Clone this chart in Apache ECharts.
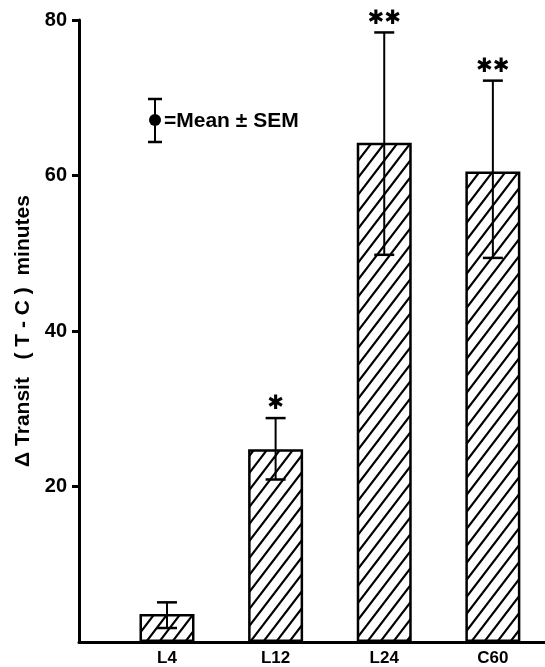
<!DOCTYPE html>
<html><head><meta charset="utf-8">
<script src="https://cdn.jsdelivr.net/npm/echarts@6/dist/echarts.min.js"></script>
<style>html,body{margin:0;padding:0;background:#fff}#c{width:545px;height:667px}</style>
</head><body><div id="c"></div>
<script>
const categories = ['L4', 'L12', 'L24', 'C60'];
const means = [3.6, 24.8, 64.2, 60.5];
const errLow = [1.8, 20.9, 49.8, 49.4];
const errHigh = [5.1, 28.8, 78.4, 72.2];
const stars = ['', '✱', '✱✱', '✱✱'];
const yTicks = [20, 40, 60, 80];

const FONT = '"Liberation Sans", Arial, sans-serif';

// hatch pattern
const tile = document.createElement('canvas');
const tw = 13, th = 17;
tile.width = tw; tile.height = th;
const g = tile.getContext('2d');
g.fillStyle = '#fff'; g.fillRect(0, 0, tw, th);
g.strokeStyle = '#000'; g.lineWidth = 2.2; g.lineCap = 'square';
g.beginPath();
g.moveTo(-tw, 2 * th); g.lineTo(2 * tw, -th);
g.moveTo(-2 * tw, 2 * th); g.lineTo(tw, -th);
g.moveTo(0, 2 * th); g.lineTo(3 * tw, -th);
g.stroke();

const barData = means.map((v, i) => [i, v]);
const errData = means.map((v, i) => [i, errLow[i], errHigh[i], v]);

const chart = echarts.init(document.getElementById('c'), null, {renderer: 'canvas'});
chart.setOption({
  animation: false,
  backgroundColor: '#fff',
  grid: {left: 79, right: 0, top: 20, bottom: 24, containLabel: false},
  xAxis: {
    type: 'value', min: -0.81, max: 3.48,
    axisLine: {show: true, onZero: false, lineStyle: {color: '#000', width: 3}},
    axisTick: {show: false},
    splitLine: {show: false},
    axisLabel: {
      customValues: [0, 1, 2, 3],
      formatter: v => categories[Math.round(v)] || '',
      color: '#000', fontFamily: FONT, fontWeight: 'bold', fontSize: 17, margin: 8
    }
  },
  yAxis: {
    type: 'value', min: 0, max: 80, interval: 20,
    name: 'Δ Transit   ( T - C )  minutes',
    nameLocation: 'middle', nameRotate: 90, nameGap: 45,
    nameTextStyle: {color: '#000', fontFamily: FONT, fontWeight: 'bold', fontSize: 21},
    axisLine: {show: true, onZero: false, lineStyle: {color: '#000', width: 3}},
    axisTick: {show: true, inside: false, length: 7, lineStyle: {color: '#000', width: 3},
      customValues: yTicks},
    splitLine: {show: false},
    axisLabel: {
      customValues: yTicks,
      color: '#000', fontFamily: FONT, fontWeight: 'bold', fontSize: 20, margin: 12
    }
  },
  graphic: [
    {type: 'line', shape: {x1: 148, y1: 99, x2: 162, y2: 99}, style: {stroke: '#000', lineWidth: 2.5}},
    {type: 'line', shape: {x1: 148, y1: 142, x2: 162, y2: 142}, style: {stroke: '#000', lineWidth: 2.5}},
    {type: 'line', shape: {x1: 155, y1: 99, x2: 155, y2: 142}, style: {stroke: '#000', lineWidth: 2}},
    {type: 'circle', shape: {cx: 155, cy: 120, r: 6}, style: {fill: '#000'}},
    {type: 'text', x: 164, y: 121, style: {text: '=Mean ± SEM', fill: '#000', font: 'bold 21px ' + FONT, textVerticalAlign: 'middle'}}
  ],
  series: [
    {
      type: 'bar', data: barData, barWidth: 55,
      itemStyle: {color: {image: tile, repeat: 'repeat'}, borderColor: '#000', borderWidth: 2.5},
      z: 2
    },
    {
      type: 'custom', data: errData, z: 3,
      renderItem: function (params, api) {
        const x = api.value(0);
        const lo = api.coord([x, api.value(1)]);
        const hi = api.coord([x, api.value(2)]);
        const cw = 10;
        const s = stars[params.dataIndex];
        const children = [
          {type: 'line', shape: {x1: lo[0], y1: lo[1], x2: hi[0], y2: hi[1]}, style: {stroke: '#000', lineWidth: 2}},
          {type: 'line', shape: {x1: lo[0] - cw, y1: lo[1], x2: lo[0] + cw, y2: lo[1]}, style: {stroke: '#000', lineWidth: 2.5}},
          {type: 'line', shape: {x1: hi[0] - cw, y1: hi[1], x2: hi[0] + cw, y2: hi[1]}, style: {stroke: '#000', lineWidth: 2.5}}
        ];
        if (s) {
          children.push({type: 'text', x: hi[0], y: hi[1] - 14, style: {text: s, fill: '#000', font: 'bold 20px "DejaVu Sans"', textAlign: 'center', textVerticalAlign: 'middle'}});
        }
        return {type: 'group', children: children};
      }
    }
  ]
});
</script></body></html>
